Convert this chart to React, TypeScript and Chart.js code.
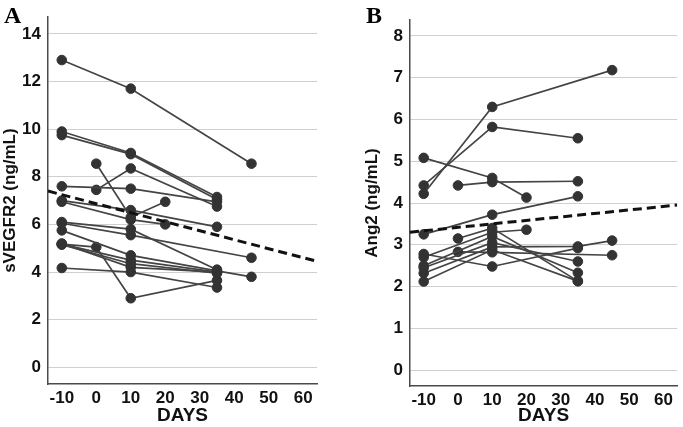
import React, { useEffect, useRef } from "react";
import { Chart, registerables } from "chart.js";

Chart.register(...registerables);

// ---------- Panel A: sVEGFR2 (ng/mL) — [day, value] per subject ----------
const A_S01 = [[-10, 12.9], [10, 11.7], [45, 8.55]];
const A_S02 = [[-10, 9.9], [10, 9.0], [35, 7.15]];
const A_S03 = [[-10, 9.75], [10, 8.95], [35, 7.05]];
const A_S04 = [[-10, 7.6], [10, 7.5], [35, 6.95]];
const A_S05 = [[0, 7.45], [10, 8.35], [35, 6.75]];
const A_S06 = [[0, 8.55], [10, 6.3], [20, 6.95]];
const A_S07 = [[-10, 7.0], [10, 6.6], [35, 5.9]];
const A_S08 = [[-10, 6.95], [10, 6.2], [20, 6.0]];
const A_S09 = [[-10, 6.1], [10, 5.8], [35, 4.1]];
const A_S10 = [[-10, 6.05], [10, 5.55], [45, 4.6]];
const A_S11 = [[-10, 5.75], [10, 4.7], [35, 4.05], [45, 3.8]];
const A_S12 = [[-10, 5.17], [10, 4.5], [35, 4.0]];
const A_S13 = [[-10, 5.15], [10, 4.35], [35, 3.95]];
const A_S14 = [[-10, 5.2], [10, 4.2], [35, 4.0]];
const A_S15 = [[-10, 4.17], [10, 4.0], [35, 3.35]];
const A_S16 = [[-10, 5.17], [0, 5.05], [10, 2.9], [35, 3.65]];
const A_SUBJECTS = [A_S01, A_S02, A_S03, A_S04, A_S05, A_S06, A_S07, A_S08, A_S09, A_S10, A_S11, A_S12, A_S13, A_S14, A_S15, A_S16];
const A_TREND = [[-14, 7.4], [64, 4.45]];
const A_Y_TICKS = [0, 2, 4, 6, 8, 10, 12, 14];
const A_Y_RANGE = [-0.7, 14.7];
const A_TITLE = "sVEGFR2 (ng/mL)";

// ---------- Panel B: Ang2 (ng/mL) ----------
const B_S01 = [[-10, 4.22], [10, 6.3], [45, 7.18]];
const B_S02 = [[-10, 4.42], [10, 5.82], [35, 5.55]];
const B_S03 = [[-10, 5.08], [10, 4.6], [20, 4.13]];
const B_S04 = [[0, 4.42], [10, 4.5], [35, 4.52]];
const B_S05 = [[-10, 3.25], [10, 3.72], [35, 4.16]];
const B_S06 = [[0, 3.15], [10, 3.4], [35, 2.13]];
const B_S07 = [[-10, 2.78], [10, 2.48], [35, 2.92]];
const B_S08 = [[-10, 2.7], [10, 3.3], [20, 3.36]];
const B_S09 = [[-10, 2.5], [10, 3.2], [35, 2.33]];
const B_S10 = [[-10, 2.45], [10, 3.05], [35, 2.6]];
const B_S11 = [[-10, 2.32], [10, 2.95], [35, 2.96], [45, 3.1]];
const B_S12 = [[-10, 2.12], [10, 2.88], [35, 2.13]];
const B_S13 = [[0, 2.83], [10, 2.82], [45, 2.75]];
const B_SUBJECTS = [B_S01, B_S02, B_S03, B_S04, B_S05, B_S06, B_S07, B_S08, B_S09, B_S10, B_S11, B_S12, B_S13];
const B_TREND = [[-14, 3.3], [64, 3.95]];
const B_Y_TICKS = [0, 1, 2, 3, 4, 5, 6, 7, 8];
const B_Y_RANGE = [-0.38, 8.38];
const B_TITLE = "Ang2 (ng/mL)";

// ---------- shared ----------
const X_TICKS = [-10, 0, 10, 20, 30, 40, 50, 60];
const X_RANGE = [-14, 64];
const X_TITLE = "DAYS";

const FONT = '"Liberation Sans", Arial, sans-serif';

type PanelProps = {
  subjects: number[][][];
  trend: number[][];
  yTicks: number[];
  yRange: number[];
  yTitle: string;
  letter: string;
  width: number;
  padding: { left: number; right: number; top: number; bottom: number };
  xAxisHeight: number;
  letterX: number;
};

function Panel(p: PanelProps) {
  const ref = useRef<HTMLCanvasElement | null>(null);
  useEffect(() => {
    if (!ref.current) return;
    const toPts = (arr: number[][]) => arr.map(([x, y]) => ({ x, y }));
    const datasets: any[] = p.subjects.map((s) => ({
      data: toPts(s),
      showLine: true,
      borderColor: "#444",
      borderWidth: 1.7,
      backgroundColor: "#333",
      pointBackgroundColor: "#333",
      pointBorderColor: "#333",
      pointBorderWidth: 1,
      pointRadius: 4.8,
      order: 1,
    }));
    datasets.push({
      data: toPts(p.trend),
      showLine: true,
      borderColor: "#111",
      borderWidth: 3,
      borderDash: [9, 5],
      pointRadius: 0,
      order: 0,
    });
    const letterPlugin = {
      id: "panelLetter",
      afterDraw(chart: any) {
        const ctx = chart.ctx;
        ctx.save();
        ctx.font = 'bold 24px "Liberation Serif", "Times New Roman", serif';
        ctx.fillStyle = "#000";
        ctx.textBaseline = "alphabetic";
        ctx.textAlign = "left";
        ctx.fillText(p.letter, p.letterX, 23);
        ctx.restore();
      },
    };
    const chart = new Chart(ref.current, {
      type: "scatter",
      data: { datasets },
      plugins: [letterPlugin],
      options: {
        animation: false,
        responsive: false,
        layout: { padding: p.padding },
        plugins: { legend: { display: false }, tooltip: { enabled: false } },
        scales: {
          x: {
            type: "linear",
            min: X_RANGE[0],
            max: X_RANGE[1],
            afterBuildTicks: (s: any) => {
              s.ticks = X_TICKS.map((v) => ({ value: v }));
            },
            afterFit: (s: any) => {
              s.height = p.xAxisHeight;
            },
            grid: { display: false, drawTicks: false },
            border: { display: true, color: "#4a4a4a", width: 1.5 },
            ticks: {
              autoSkip: false,
              maxRotation: 0,
              padding: 4,
              color: "#111",
              font: { family: FONT, size: 17, weight: "bold" },
            },
            title: {
              display: true,
              text: X_TITLE,
              color: "#111",
              padding: { top: 0, bottom: 0 },
              font: { family: FONT, size: 19, weight: "bold" },
            },
          },
          y: {
            type: "linear",
            min: p.yRange[0],
            max: p.yRange[1],
            afterBuildTicks: (s: any) => {
              s.ticks = p.yTicks.map((v) => ({ value: v }));
            },
            afterFit: (s: any) => {
              s.width = 48;
            },
            grid: { display: true, drawTicks: false, color: "#cfcfcf", lineWidth: 1 },
            border: { display: true, color: "#4a4a4a", width: 1.5 },
            ticks: {
              autoSkip: false,
              padding: 7,
              color: "#111",
              font: { family: FONT, size: 17, weight: "bold" },
            },
            title: {
              display: true,
              text: p.yTitle,
              color: "#111",
              padding: { top: 0, bottom: 0 },
              font: { family: FONT, size: 17, weight: "bold" },
            },
          },
        },
      } as any,
    });
    return () => chart.destroy();
  }, []);
  return <canvas ref={ref} width={p.width} height={427} style={{ display: "block", width: p.width, height: 427 }} />;
}

export default function App() {
  return (
    <div style={{ position: "fixed", left: 0, top: 0, width: 683, height: 427, background: "#fff", display: "flex" }}>
      <Panel
        subjects={A_SUBJECTS}
        trend={A_TREND}
        yTicks={A_Y_TICKS}
        yRange={A_Y_RANGE}
        yTitle={A_TITLE}
        letter="A"
        width={340}
        padding={{ left: 0, right: 23, top: 17, bottom: 0 }}
        xAxisHeight={43}
        letterX={4}
      />
      <Panel
        subjects={B_SUBJECTS}
        trend={B_TREND}
        yTicks={B_Y_TICKS}
        yRange={B_Y_RANGE}
        yTitle={B_TITLE}
        letter="B"
        width={343}
        padding={{ left: 22, right: 5, top: 20, bottom: 0 }}
        xAxisHeight={41}
        letterX={26}
      />
    </div>
  );
}
